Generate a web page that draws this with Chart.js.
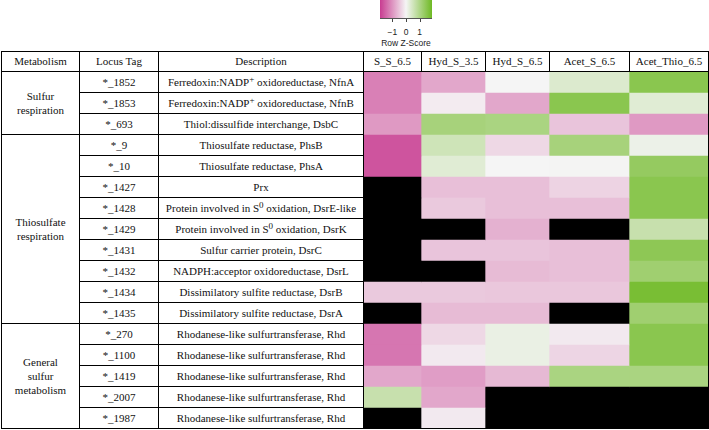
<!DOCTYPE html>
<html>
<head>
<meta charset="utf-8">
<script src="https://cdn.jsdelivr.net/npm/chart.js@4"></script>
<style>
  body { margin: 0; width: 709px; height: 430px; background: #fff; position: relative; overflow: hidden;
         font-family: "Liberation Serif", "Times New Roman", serif; font-size: 11px; color: #111; }
  .cell { position: absolute; display: flex; align-items: center; justify-content: center;
          text-align: center; line-height: 14px; white-space: nowrap; }
  .ln { position: absolute; background: #000; z-index: 2; }
  #heat { position: absolute; left: 364px; top: 72px; z-index: 1; }
  .key { position: absolute; font-family: "Liberation Sans", Arial, sans-serif; font-size: 8.5px; color: #222;
         white-space: nowrap; transform: translateX(-50%); }
  sup { font-size: 9px; line-height: 0; vertical-align: 4px; }
</style>
</head>
<body>
<canvas id="heat" width="344" height="357"></canvas>
<script>
// Row labels of the table
const locusTags = ["*_1852", "*_1853", "*_693", "*_9", "*_10", "*_1427", "*_1428", "*_1429",
  "*_1431", "*_1432", "*_1434", "*_1435", "*_270", "*_1100", "*_1419", "*_2007", "*_1987"];
const descriptions = [
  "Ferredoxin:NADP<sup>+</sup> oxidoreductase, NfnA",
  "Ferredoxin:NADP<sup>+</sup> oxidoreductase, NfnB",
  "Thiol:dissulfide interchange, DsbC",
  "Thiosulfate reductase, PhsB",
  "Thiosulfate reductase, PhsA",
  "Prx",
  "Protein involved in S<sup>0</sup> oxidation, DsrE-like",
  "Protein involved in S<sup>0</sup> oxidation, DsrK",
  "Sulfur carrier protein, DsrC",
  "NADPH:acceptor oxidoreductase, DsrL",
  "Dissimilatory sulfite reductase, DsrB",
  "Dissimilatory sulfite reductase, DsrA",
  "Rhodanese-like sulfurtransferase, Rhd",
  "Rhodanese-like sulfurtransferase, Rhd",
  "Rhodanese-like sulfurtransferase, Rhd",
  "Rhodanese-like sulfurtransferase, Rhd",
  "Rhodanese-like sulfurtransferase, Rhd"
];
// Metabolism groups and how many rows each one spans
const groupNames = [["Sulfur", "respiration"], ["Thiosulfate", "respiration"], ["General", "sulfur", "metabolism"]];
const groupSizes = [3, 9, 5];

// Heatmap columns and row z-scores (null = no data, drawn black)
const samples = ["S_S_6.5", "Hyd_S_3.5", "Hyd_S_6.5", "Acet_S_6.5", "Acet_Thio_6.5"];
const ssValues     = [-1.2, -1.2, -0.95, -1.65, -1.65, null, null, null, null, null, -0.45, null, -1.3, -1.3, -0.8, 0.65, null];
const hyd35Values  = [-0.8, -0.1, 1.1, 0.55, 0.3, -0.55, -0.45, null, -0.5, null, -0.45, -0.6, -0.3, -0.12, -0.9, -0.8, -0.12];
const hyd65Values  = [0, -0.8, 1.05, -0.3, 0, -0.55, -0.55, -0.7, -0.5, -0.6, -0.47, -0.6, 0.15, 0.15, -0.62, null, null];
const acetSValues  = [0.35, 1.5, -0.5, 1.1, 0.02, -0.35, -0.55, null, -0.55, -0.55, -0.47, null, -0.12, -0.33, 1.05, null, null];
const acetThValues = [1.5, 0.3, -0.95, 0.12, 1.35, 1.5, 1.5, 0.65, 1.45, 1.2, 1.75, 1.2, 1.5, 1.5, 1.05, null, null];
const zScores = [ssValues, hyd35Values, hyd65Values, acetSValues, acetThValues];

// Colour key
const keyTicks = [-1, 0, 1];
const zMax = 1.9;

// Table layout (pixels)
const colLines = [1, 79, 158, 363, 421, 485, 549, 629, 708];
const heatColWidths = [57, 64, 64, 80, 79];
const tableTop = 51, headerBottom = 71, rowH = 21;

const lowCol = [200, 60, 145], midCol = [245, 245, 245], highCol = [110, 185, 35];
function zColor(z) {
  if (z === null) return "#000";
  const t = Math.min(Math.abs(z) / zMax, 1);
  const end = z < 0 ? lowCol : highCol;
  const c = midCol.map((m, i) => Math.round(m + (end[i] - m) * t));
  return `rgb(${c[0]}, ${c[1]}, ${c[2]})`;
}

function addDiv(cls, x, y, w, h, html) {
  const d = document.createElement("div");
  d.className = cls;
  d.style.left = x + "px"; d.style.top = y + "px";
  if (w !== undefined) d.style.width = w + "px";
  if (h !== undefined) d.style.height = h + "px";
  // wrap in a span so flex layout keeps the spaces around <sup>
  if (html !== undefined) d.innerHTML = "<span>" + html + "</span>";
  document.body.appendChild(d);
  return d;
}

const nRows = locusTags.length;
const tableBottom = headerBottom + rowH * nRows;

// lines
colLines.forEach((x, i) => {
  const full = i <= 3 || i === colLines.length - 1;
  addDiv("ln", x, tableTop, 1, (full ? tableBottom : headerBottom) - tableTop + 1);
});
[tableTop, headerBottom, tableBottom].forEach(y => addDiv("ln", colLines[0], y, colLines[8] - colLines[0] + 1, 1));
for (let k = 1; k < nRows; k++) {
  addDiv("ln", colLines[1], headerBottom + rowH * k, colLines[3] - colLines[1], 1);
}
let acc = 0;
groupSizes.forEach((n, g) => {
  const y0 = headerBottom + rowH * acc;
  acc += n;
  const y1 = headerBottom + rowH * acc;
  if (acc < nRows) addDiv("ln", colLines[0], y1, colLines[1] - colLines[0], 1);
  addDiv("cell", colLines[0] + 1, y0 + 1, colLines[1] - colLines[0] - 1, y1 - y0 - 1, groupNames[g].join("<br>"));
});

// header texts
const headers = ["Metabolism", "Locus Tag", "Description"].concat(samples);
headers.forEach((h, i) => {
  addDiv("cell", colLines[i] + 1, tableTop + 1, colLines[i + 1] - colLines[i] - 1, headerBottom - tableTop - 2, h);
});

// body texts
locusTags.forEach((tag, r) => {
  const y = headerBottom + rowH * r + 1;
  addDiv("cell", colLines[1] + 1, y, colLines[2] - colLines[1] - 1, rowH - 1, tag);
  addDiv("cell", colLines[2] + 1, y, colLines[3] - colLines[2] - 1, rowH - 1, descriptions[r]);
});

// colour key
const keyLeft = 380, keyW = 52;
const grad = addDiv("", keyLeft, 0, keyW, 18);
grad.style.position = "absolute";
grad.style.background = `linear-gradient(to right, ${zColor(-zMax)}, ${zColor(0)}, ${zColor(zMax)})`;
grad.style.borderBottom = "1px solid #555";
keyTicks.forEach(v => {
  const x = keyLeft + (v + zMax) / (2 * zMax) * keyW;
  const t = addDiv("", Math.round(x), 19, 1, 3);
  t.style.position = "absolute"; t.style.background = "#444";
  addDiv("key", x, 27, undefined, undefined, v < 0 ? "\u2212" + Math.abs(v) : String(v));
});
addDiv("key", keyLeft + keyW / 2, 38, undefined, undefined, "Row Z-Score");

// heatmap cells: one floating bar dataset per sample column
const colEdges = [0];
heatColWidths.forEach(w => colEdges.push(colEdges[colEdges.length - 1] + w));

const datasets = samples.map((name, j) => ({
  label: name,
  data: locusTags.map(() => [colEdges[j], colEdges[j + 1]]),
  backgroundColor: zScores[j].map(zColor),
  borderWidth: 0,
  barPercentage: 1,
  categoryPercentage: 1,
  grouped: false
}));

new Chart(document.getElementById("heat"), {
  type: "bar",
  data: { labels: locusTags, datasets: datasets },
  options: {
    indexAxis: "y",
    responsive: false,
    animation: false,
    devicePixelRatio: 1,
    layout: { padding: 0 },
    plugins: { legend: { display: false }, tooltip: { enabled: false } },
    scales: {
      x: { type: "linear", min: 0, max: colEdges[colEdges.length - 1], display: false },
      y: { type: "category", display: false, offset: true }
    }
  }
});
</script>
</body>
</html>
